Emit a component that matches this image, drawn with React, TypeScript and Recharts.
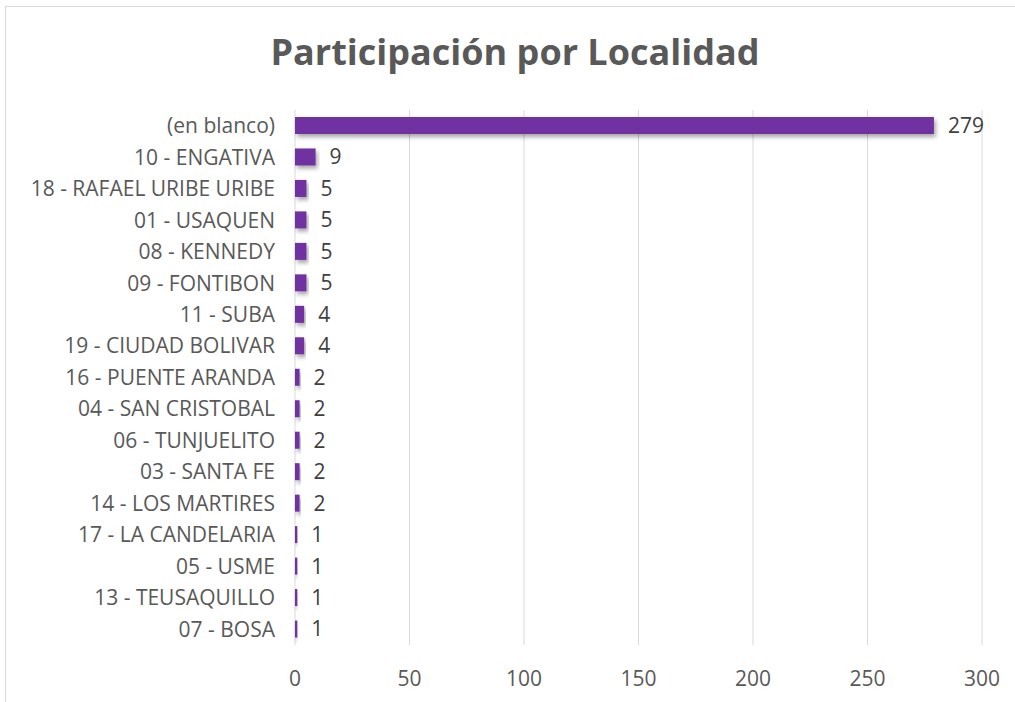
import { Bar, BarChart, CartesianGrid, LabelList, XAxis, YAxis } from "recharts";

const localidades = [
  "(en blanco)",
  "10 - ENGATIVA",
  "18 - RAFAEL URIBE URIBE",
  "01 - USAQUEN",
  "08 - KENNEDY",
  "09 - FONTIBON",
  "11 - SUBA",
  "19 - CIUDAD BOLIVAR",
  "16 - PUENTE ARANDA",
  "04 - SAN CRISTOBAL",
  "06 - TUNJUELITO",
  "03 - SANTA FE",
  "14 - LOS MARTIRES",
  "17 - LA CANDELARIA",
  "05 - USME",
  "13 - TEUSAQUILLO",
  "07 - BOSA"
];

const participantes = [279, 9, 5, 5, 5, 5, 4, 4, 2, 2, 2, 2, 2, 1, 1, 1, 1];

const xTicks = [0, 50, 100, 150, 200, 250, 300];

const data = localidades.map((name, i) => ({ name, value: participantes[i] }));

const FONT = "'Open Sans', sans-serif";

function ShadowBar(props: any) {
  const { x, y, width, height, fill, index } = props;
  const id = `bar-shadow-${index}`;
  return (
    <g>
      <defs>
        <filter id={id} x="-20%" y="-50%" width="140%" height="200%">
          <feDropShadow dx="2" dy="3" stdDeviation="2" floodColor="#000" floodOpacity="0.35" />
        </filter>
      </defs>
      <rect x={x} y={y} width={Math.max(width, 0)} height={height} fill={fill} filter={`url(#${id})`} />
    </g>
  );
}

export default function App() {
  return (
    <div style={{ position: "absolute", left: 0, top: 0, width: 1015, height: 702, background: "#fff" }}>
      <div
        style={{
          position: "absolute",
          left: 5,
          top: 6,
          width: 1020,
          height: 710,
          border: "1px solid #d9d9d9",
          boxSizing: "border-box"
        }}
      />
      <div
        style={{
          position: "absolute",
          left: 0,
          top: 27,
          width: 1030,
          textAlign: "center",
          fontFamily: FONT,
          fontWeight: 700,
          fontSize: 36,
          lineHeight: "50px",
          color: "#595959"
        }}
      >
        Participación por Localidad
      </div>
      <div style={{ position: "absolute", left: 0, top: 0 }}>
        <BarChart
          width={1015}
          height={702}
          data={data}
          layout="vertical"
          margin={{ top: 110, right: 33, bottom: 0, left: 0 }}
          barSize={17}
        >
          <CartesianGrid horizontal={false} vertical={true} stroke="#d9d9d9" />
          <XAxis
            type="number"
            domain={[0, 300]}
            ticks={xTicks}
            axisLine={false}
            tickLine={false}
            tickSize={0}
            tickMargin={26}
            height={57}
            tick={{ fill: "#595959", fontSize: 21, fontFamily: FONT }}
            interval={0}
          />
          <YAxis
            type="category"
            dataKey="name"
            width={295}
            axisLine={false}
            tickLine={false}
            tickSize={0}
            tickMargin={20}
            interval={0}
            tick={{ fill: "#595959", fontSize: 21, fontFamily: FONT }}
          />
          <Bar dataKey="value" fill="#7030A0" isAnimationActive={false} shape={ShadowBar}>
            <LabelList
              dataKey="value"
              position="right"
              offset={14}
              fill="#404040"
              fontSize={21}
              fontFamily={FONT}
            />
          </Bar>
        </BarChart>
      </div>
    </div>
  );
}
